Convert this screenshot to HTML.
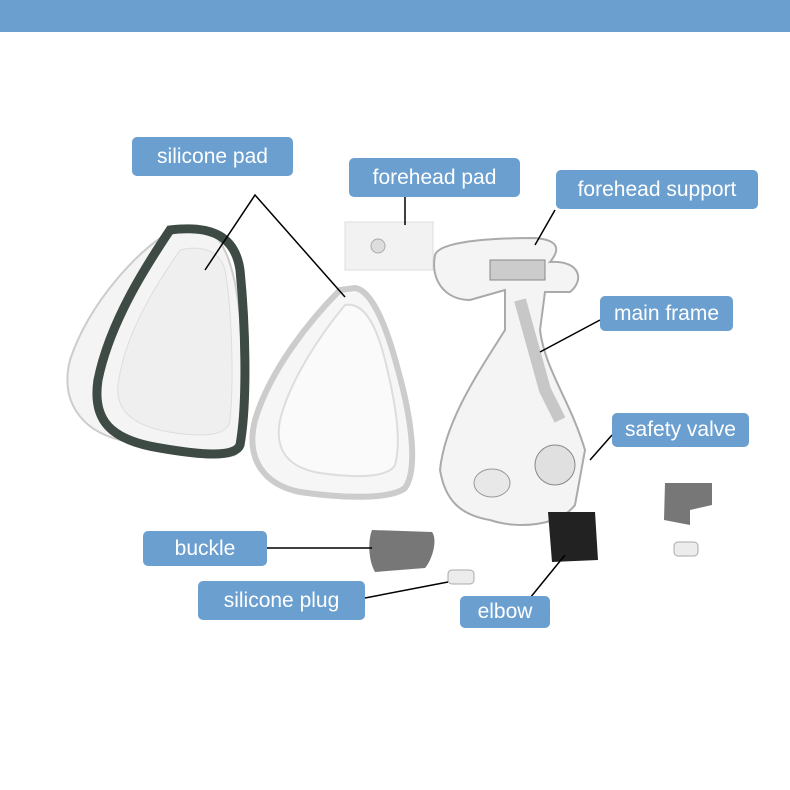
<!DOCTYPE html>
<html><head><meta charset="utf-8"><style>
body{margin:0;width:790px;height:790px;background:#fff;position:relative;overflow:hidden;font-family:"Liberation Sans",sans-serif}
.bar{position:absolute;left:0;top:0;width:790px;height:32px;background:#6a9fd0}
.l{position:absolute;background:#6a9fd0;color:#fff;font-size:21px;border-radius:5px;display:flex;align-items:center;justify-content:center}
svg{position:absolute;left:0;top:0}
</style></head><body>
<div class="bar"></div>
<svg width="790" height="790">
<!-- left cushion -->
<path d="M165,235 C140,250 90,300 70,360 C60,400 80,430 120,440 C160,450 210,462 235,455 C250,440 245,380 240,320 C235,260 220,230 200,228 Z" fill="#f4f4f4" stroke="#ccc" stroke-width="2"/>
<path d="M170,230 C150,260 110,320 98,380 C92,420 110,440 160,448 C200,455 235,458 240,445 C248,400 245,320 240,270 C235,235 210,225 170,230 Z" fill="none" stroke="#3e4a44" stroke-width="9"/>
<path d="M180,250 C160,280 125,330 118,385 C115,415 140,428 175,433 C205,437 228,436 230,420 C234,380 232,310 225,270 C220,250 200,245 180,250 Z" fill="#efefef" stroke="#ddd"/>
<!-- middle cushion -->
<path d="M340,290 C310,320 270,370 255,420 C245,460 265,485 300,492 C340,498 390,500 405,488 C418,470 412,420 398,370 C385,320 370,290 355,288 Z" fill="#f6f6f6" stroke="#ccc" stroke-width="6"/>
<path d="M345,305 C320,335 290,380 280,420 C274,452 290,468 320,473 C355,478 388,478 395,465 C402,440 395,400 385,360 C375,320 362,302 345,305 Z" fill="#fafafa" stroke="#ddd" stroke-width="2"/>
<!-- forehead pad -->
<rect x="345" y="222" width="88" height="48" fill="#f2f2f2" stroke="#ddd"/>
<circle cx="378" cy="246" r="7" fill="#ddd" stroke="#aaa"/>
<!-- forehead support & frame -->
<path d="M435,255 C440,240 500,238 535,238 C560,240 560,250 550,262 C580,260 585,280 570,292 L545,292 L540,330 C545,370 570,400 585,450 L575,505 C560,525 520,530 490,520 C460,515 445,500 440,470 C445,420 480,370 505,330 L505,290 L470,300 C445,300 430,280 435,255 Z" fill="#f4f4f4" stroke="#aaa" stroke-width="2"/>
<rect x="490" y="260" width="55" height="20" fill="#ccc" stroke="#888"/>
<path d="M520,300 L545,390 L560,420" stroke="#999" stroke-width="12" fill="none" opacity=".5"/>
<ellipse cx="492" cy="483" rx="18" ry="14" fill="#e8e8e8" stroke="#999"/>
<circle cx="555" cy="465" r="20" fill="#e0e0e0" stroke="#888"/>
<path d="M548,512 L595,512 L598,560 L552,562 Z" fill="#222"/>
<!-- buckle -->
<path d="M372,530 L432,532 C438,540 432,560 425,568 L375,572 C368,560 368,540 372,530 Z" fill="#777"/>
<path d="M665,483 L712,483 L712,505 L690,510 L690,525 L664,520 Z" fill="#777"/>
<rect x="674" y="542" width="24" height="14" rx="4" fill="#ececec" stroke="#aaa"/>
<rect x="448" y="570" width="26" height="14" rx="4" fill="#ececec" stroke="#aaa"/>
<g stroke="#000" stroke-width="1.5" fill="none">
<path d="M205,270 L255,195 L345,297"/>
<path d="M405,197 L405,225"/>
<path d="M555,210 L535,245"/>
<path d="M600,320 L540,352"/>
<path d="M612,435 L590,460"/>
<path d="M267,548 L372,548"/>
<path d="M365,598 L448,582"/>
<path d="M530,598 L565,555"/>
</g>
</svg>
<div class="l" style="left:132px;top:137px;width:161px;height:39px">silicone pad</div>
<div class="l" style="left:349px;top:158px;width:171px;height:39px">forehead pad</div>
<div class="l" style="left:556px;top:170px;width:202px;height:39px">forehead support</div>
<div class="l" style="left:600px;top:296px;width:133px;height:35px">main frame</div>
<div class="l" style="left:612px;top:413px;width:137px;height:34px">safety valve</div>
<div class="l" style="left:143px;top:531px;width:124px;height:35px">buckle</div>
<div class="l" style="left:198px;top:581px;width:167px;height:39px">silicone plug</div>
<div class="l" style="left:460px;top:596px;width:90px;height:32px">elbow</div>
</body></html>
